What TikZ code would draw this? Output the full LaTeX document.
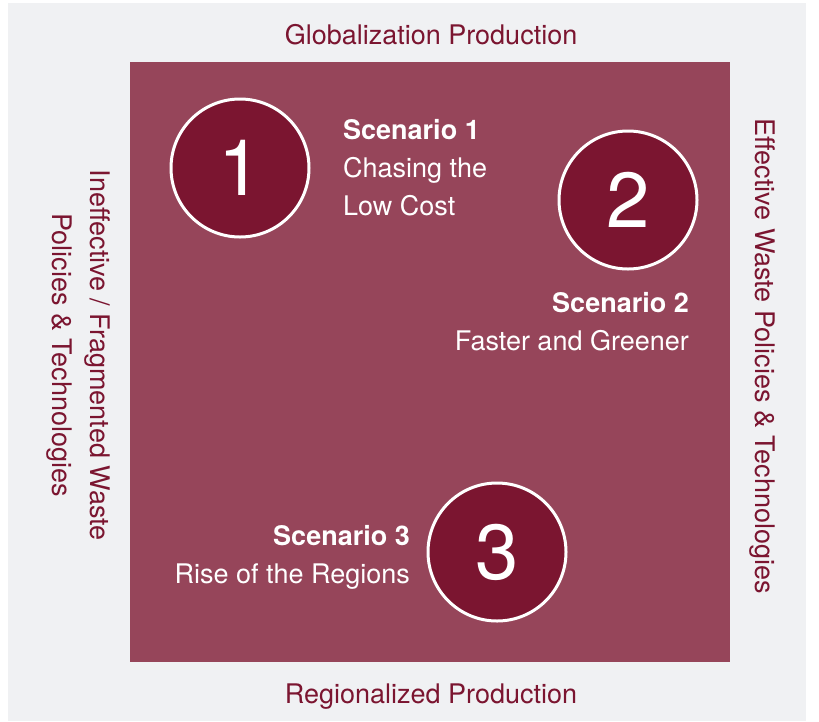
\documentclass[tikz,border=0pt]{standalone}
\usepackage{xcolor}
\usepackage{tikz}
\usepackage{fontspec}
\setmainfont{TeX Gyre Heros}
\usetikzlibrary{positioning}
\definecolor{scBack}{HTML}{F0F1F3}
\definecolor{scField}{HTML}{96455A}
\definecolor{scDeep}{HTML}{7B1530}

\begin{document}
\begin{tikzpicture}[
  x=1pt, y=-1pt,
  font=\fontsize{27}{38}\selectfont,
  disco/.style={circle, draw=white, line width=3pt, fill=scDeep, text=white,
                minimum size=138pt, inner sep=0pt, font=\fontsize{78}{78}\selectfont},
  escena/.style={text=white, inner sep=0pt},
  eje/.style={text=scDeep, inner sep=0pt, align=center},
]
\useasboundingbox (0,0) rectangle (819,721);
\fill[white] (0,0) rectangle (819,721);
\fill[scBack] (8,3) rectangle (806,721);

% ---- Campo ----
\node[fill=scField, minimum size=600pt, inner sep=0pt] (campo) at (430,362) {};

% ---- Escenarios ----
\node[disco] (uno)  at (240,168) {1};
\node[disco] (dos)  at (628,200) {2};
\node[disco] (tres) at (497,552) {3};

\node[escena, align=left, anchor=north west] (txtuno) at (343,119)
     {\textbf{Scenario 1}\\Chasing the\\Low Cost};
\node[escena, align=right, anchor=north east] (txtdos) at (689,292)
     {\textbf{Scenario 2}\\Faster and Greener};
\node[escena, align=right, anchor=north east] (txttres) at (410,525)
     {\textbf{Scenario 3}\\Rise of the Regions};

% ---- Ejes ----
\node[eje, anchor=base] (arriba) at (431,44) {Globalization Production};
\node[eje, anchor=base] (abajo)  at (431,703) {Regionalized Production};
\node[eje, rotate=-90] (izq) at (78,355)
     {Ineffective / Fragmented Waste\\Policies \& Technologies};
\node[eje, rotate=-90] (der) at (762,356)
     {Effective Waste Policies \& Technologies};

\end{tikzpicture}
\end{document}
